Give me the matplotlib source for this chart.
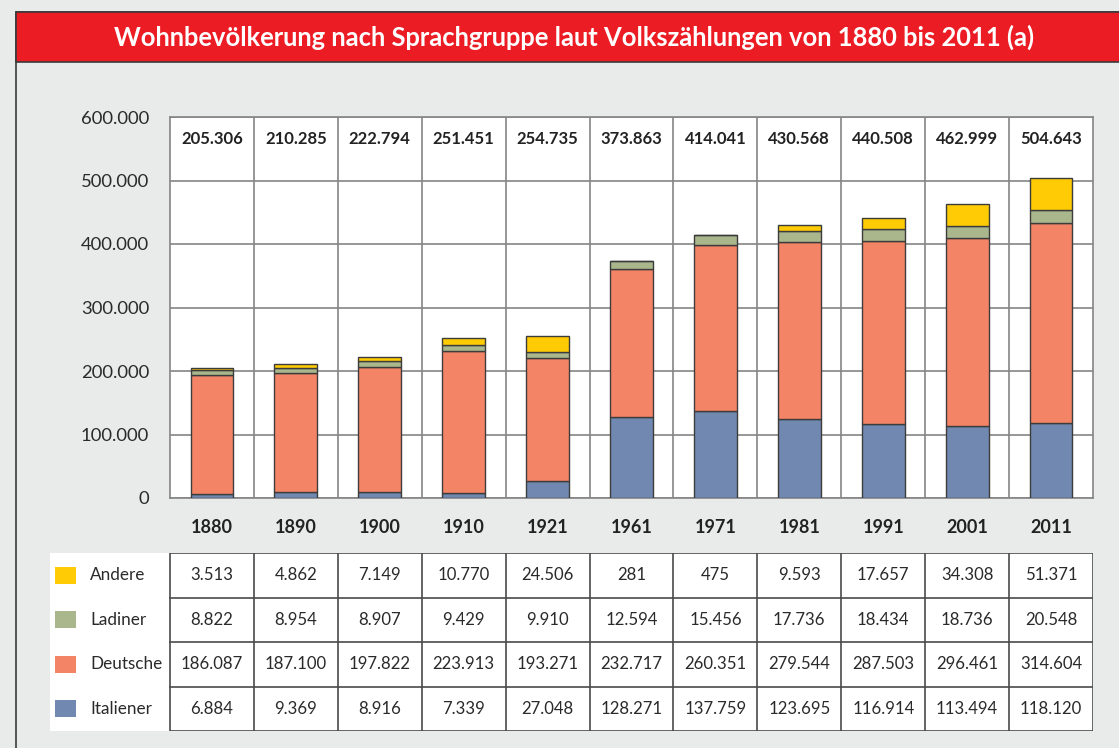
import numpy as np
import matplotlib
matplotlib.use('Agg')
import matplotlib.pyplot as plt
from matplotlib.patches import Rectangle
from matplotlib.lines import Line2D

years = ['1880', '1890', '1900', '1910', '1921', '1961', '1971', '1981', '1991', '2001', '2011']
italiener = [6884, 9369, 8916, 7339, 27048, 128271, 137759, 123695, 116914, 113494, 118120]
deutsche = [186087, 187100, 197822, 223913, 193271, 232717, 260351, 279544, 287503, 296461, 314604]
ladiner = [8822, 8954, 8907, 9429, 9910, 12594, 15456, 17736, 18434, 18736, 20548]
andere = [3513, 4862, 7149, 10770, 24506, 281, 475, 9593, 17657, 34308, 51371]
totals = [205306, 210285, 222794, 251451, 254735, 373863, 414041, 430568, 440508, 462999, 504643]
yticks = [0, 100000, 200000, 300000, 400000, 500000, 600000]

groups = ['Italiener', 'Deutsche', 'Ladiner', 'Andere']
series = [italiener, deutsche, ladiner, andere]
colors = ['#7189b0', '#f38566', '#aab78c', '#ffcb05']

FONT = 'Lato'
BG = '#e9eaea'
GRID = '#858585'
W, H = 1119, 748


def fmt(v):
    return '{:,}'.format(v).replace(',', '.')


def px(x0, y0, x1, y1):
    # pixel box (top-left origin) -> figure fraction rect
    return [x0 / W, 1 - y1 / H, (x1 - x0) / W, (y1 - y0) / H]


fig = plt.figure(figsize=(W / 100, H / 100), dpi=100)
fig.patch.set_facecolor(BG)

# outer frame and red title band
fig.patches.append(Rectangle((16 / W, -0.01), 1.0, 1 - 12 / H + 0.01, transform=fig.transFigure,
                             facecolor='none', edgecolor='#3a3a3a', lw=1.2))
fig.patches.append(Rectangle((16 / W, 1 - 62 / H), 1.0, 50 / H, transform=fig.transFigure,
                             facecolor='#ec1c24', edgecolor='#3a3a3a', lw=1.2))
fig.text(574 / W, 1 - 37 / H, 'Wohnbevölkerung nach Sprachgruppe laut Volkszählungen von 1880 bis 2011 (a)',
         color='white', fontsize=18.4, fontweight='bold', family=FONT, ha='center', va='center')

# main chart
ax = fig.add_axes(px(170, 117, 1093, 498))
ax.set_facecolor('white')
x = np.arange(len(years))
bottom = np.zeros(len(years))
for name, vals, c in zip(groups, series, colors):
    ax.bar(x, vals, 0.51, bottom=bottom, color=c, edgecolor='#3c3c3c', lw=1.0, label=name, zorder=3)
    bottom += np.array(vals)

ax.set_xlim(-0.5, len(years) - 0.5)
ax.set_ylim(0, 600000)
ax.set_yticks(yticks)
ax.set_yticklabels([fmt(v) for v in yticks], fontsize=13.3, family=FONT, color='#2a2a2a')
ax.set_xticks(x)
ax.set_xticklabels(years, fontsize=13, fontweight='bold', family=FONT, color='#222222')
ax.tick_params(axis='both', length=0)
ax.tick_params(axis='y', pad=15)
ax.tick_params(axis='x', pad=15)
ax.grid(axis='y', color=GRID, lw=1.2, zorder=1)
for b in np.arange(0.5, len(years) - 1, 1.0):
    ax.axvline(b, color=GRID, lw=1.2, zorder=1)
for s in ax.spines.values():
    s.set_color(GRID)
    s.set_linewidth(1.2)
for xi, t in zip(x, totals):
    ax.text(xi, 566000, fmt(t), ha='center', va='center', fontsize=12, fontweight='bold',
            family=FONT, color='#222222')

# data table with legend column
tab = fig.add_axes(px(50, 553, 1093, 731))
tab.set_xlim(-0.5 - 120 / 83.9, len(years) - 0.5)
tab.set_ylim(len(groups), 0)
tab.axis('off')
tab.add_patch(Rectangle((-0.5 - 120 / 83.9, 0), 120 / 83.9, len(groups), facecolor='white', edgecolor='none'))
tab.add_patch(Rectangle((-0.5, 0), len(years), len(groups), facecolor='white', edgecolor='#4a4a4a', lw=1.2))
for r in range(1, len(groups)):
    tab.add_line(Line2D([-0.5, len(years) - 0.5], [r, r], color='#4a4a4a', lw=1.2))
for c in np.arange(0.5, len(years) - 1, 1.0):
    tab.add_line(Line2D([c, c], [0, len(groups)], color='#4a4a4a', lw=1.2))

rows = list(zip(groups, series, colors))[::-1]
for r, (name, vals, c) in enumerate(rows):
    tab.add_patch(Rectangle((-0.5 - 115 / 83.9, r + 0.31), 21 / 83.9, 0.38, facecolor=c, edgecolor='none'))
    tab.text(-0.5 - 80 / 83.9, r + 0.5, name, ha='left', va='center', fontsize=12.3, family=FONT, color='#2a2a2a')
    for ci, v in enumerate(vals):
        tab.text(ci, r + 0.5, fmt(v), ha='center', va='center', fontsize=12.1, family=FONT, color='#2a2a2a')

fig.savefig('out.png', dpi=100, facecolor=BG)
